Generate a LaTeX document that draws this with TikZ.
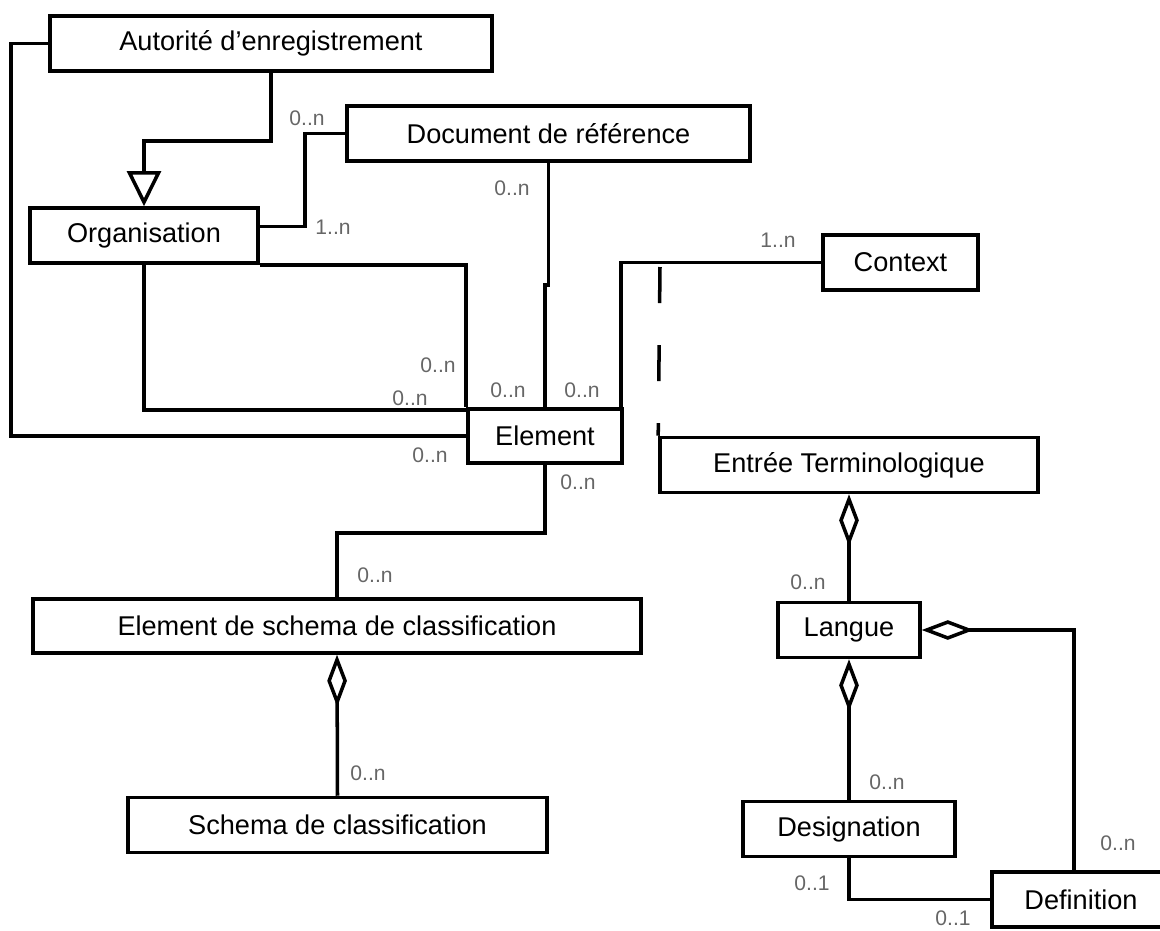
\documentclass[tikz,border=0pt]{standalone}
\usepackage{fontspec}
\newfontfamily\umlfont{Liberation Sans}
\usetikzlibrary{positioning, calc, arrows.meta}

\begin{document}
\begin{tikzpicture}[
    x=0.025cm, y=-0.025cm,
    line width=2.5pt,
    classe/.style={draw, rectangle, line width=2.5pt, minimum height=1.375cm, inner sep=0pt,
        font=\umlfont\fontsize{19.3}{22}\selectfont},
    mult/.style={inner sep=0pt, text=black!60, font=\umlfont\fontsize{15}{17}\selectfont},
    herit/.style={-{Triangle[open, length=25pt, width=24pt]}},
    agreg/.style={{Diamond[open, length=37pt, width=14pt]}-},
    pointille/.style={dash pattern=on 0.9cm off 1.05cm}
]
\useasboundingbox (0,0) rectangle (1160,930);

% classes
\node[classe, minimum width=11.05cm] (aut) at (271,43.5) {Autorité d’enregistrement};
\node[classe, minimum width=5.7cm] (org) at (144,235.5) {Organisation};
\node[classe, minimum width=10.075cm] (doc) at (548.5,133.5) {Document de référence};
\node[classe, minimum width=3.875cm] (ctx) at (900.5,262.5) {Context};
\node[classe, minimum width=3.85cm, minimum height=1.35cm] (elem) at (545,436) {Element};
\node[classe, minimum width=9.45cm] (entree) at (849,465) {Entrée Terminologique};
\node[classe, minimum width=15.2cm, minimum height=1.35cm] (escl) at (337,626) {Element de schema de classification};
\node[classe, minimum width=10.475cm] (schema) at (337.5,825) {Schema de classification};
\node[classe, minimum width=3.55cm] (langue) at (849,630) {Langue};
\node[classe, minimum width=5.3cm] (desig) at (849,829) {Designation};
\node[classe, minimum width=4.45cm] (def) at (1081,899.5) {Definition};

% associations
\draw[herit] (aut.south) -- ++(0,68) -| (org.north);
\draw (aut.west) -- ++(-37,0) |- (elem.west);
\draw ($(org.east)+(0,-9)$) -- ++(45,0) |- (doc.west);
\draw (org.south east) -| (elem.north west);
\draw (org.south) |- ($(elem.north west)+(0,3)$);
\draw (doc.south) -- ++(0,122) -| (elem.north);
\draw (ctx.west) -| ($(elem.north east)+(-3,0)$);
\coordinate (dtop) at (660,267);
\draw[pointille] (dtop) -- (entree.north west);
\draw (elem.south) -- ++(0,68) -| (escl.north);

% agregations
\draw[agreg] (escl.south) -- (schema.north);
\draw[agreg] (entree.south) -- (langue.north);
\draw[agreg] (langue.south) -- (desig.north);
\draw[agreg] (langue.east) -| ($(def.north)+(-7,0)$);
\draw (desig.south) |- (def.west);

% multiplicites
\node[mult] (m-aut) at (307,118) {0..n};
\node[mult] (m-org) at (333,227) {1..n};
\node[mult] (m-doc) at (512,188) {0..n};
\node[mult] (m-ctx) at (778,240) {1..n};
\node[mult] (m-elem-org1) at (438,365) {0..n};
\node[mult] (m-elem-org2) at (410,398) {0..n};
\node[mult] (m-elem-doc) at (508,390) {0..n};
\node[mult] (m-elem-ctx) at (582,390) {0..n};
\node[mult] (m-elem-aut) at (430,455) {0..n};
\node[mult] (m-elem-escl) at (578,482) {0..n};
\node[mult] (m-escl) at (375,575) {0..n};
\node[mult] (m-schema) at (368,773) {0..n};
\node[mult] (m-langue) at (808,582) {0..n};
\node[mult] (m-desig) at (887,782) {0..n};
\node[mult] (m-def) at (1118,843) {0..n};
\node[mult] (m-desig-def) at (812,883) {0..1};
\node[mult] (m-def-desig) at (953,918) {0..1};

\end{tikzpicture}
\end{document}
